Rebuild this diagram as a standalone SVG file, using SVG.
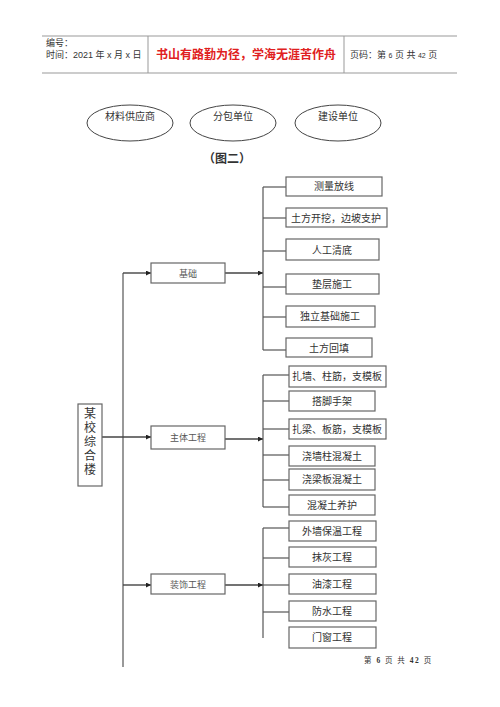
<svg xmlns="http://www.w3.org/2000/svg" width="500" height="707" viewBox="0 0 500 707">
<defs>
<marker id="arr" viewBox="0 0 10 10" refX="10" refY="5" markerWidth="5" markerHeight="5" orient="auto" markerUnits="userSpaceOnUse">
<path d="M0,0 L10,5 L0,10 z" fill="#222"/>
</marker>
</defs>
<style>
.hdr{stroke:#999;stroke-width:1;fill:none}
.sans{font-family:"Liberation Sans","Noto Sans CJK SC",sans-serif;fill:#333}
.ser{font-family:"Liberation Serif","Noto Sans CJK SC",serif;fill:#333}
.box{fill:#fff;stroke:#666;stroke-width:1.2}
.ell{fill:#fff;stroke:#444;stroke-width:1}
.ln{stroke:#555;stroke-width:1.2;fill:none}
.arr{stroke:#444;stroke-width:1.4;fill:none;marker-end:url(#arr)}
.sub{font-size:10px;text-anchor:middle;fill:#333}
.mid{font-size:9px;text-anchor:middle;fill:#555}
</style>
<rect width="500" height="707" fill="#fff"/>
<g id="header">
<line class="hdr" x1="42" y1="36" x2="457" y2="36"/>
<line class="hdr" x1="42" y1="73" x2="457" y2="73"/>
<line class="hdr" x1="148" y1="36" x2="148" y2="73"/>
<line class="hdr" x1="344" y1="36" x2="344" y2="73"/>
<text class="sans" x="46" y="46" font-size="9">编号：</text>
<text class="sans" x="46" y="58" font-size="9">时间：2021 年 x 月 x 日</text>
<text x="246" y="59" font-size="12" font-weight="bold" text-anchor="middle" fill="#e02020" font-family="'Liberation Serif','Noto Sans CJK SC',serif">书山有路勤为径，学海无涯苦作舟</text>
<text class="sans" x="350" y="58" font-size="9">页码：第 <tspan font-size="7">6</tspan> 页 共 <tspan font-size="7">42</tspan> 页</text>
</g>
<g id="ell1"><ellipse class="ell" cx="130" cy="123" rx="43" ry="18"/><text class="ser" x="130" y="120" font-size="10" text-anchor="middle">材料供应商</text></g>
<g id="ell2"><ellipse class="ell" cx="233" cy="123" rx="43" ry="18"/><text class="ser" x="233" y="120" font-size="10" text-anchor="middle">分包单位</text></g>
<g id="ell3"><ellipse class="ell" cx="338" cy="123" rx="43" ry="18"/><text class="ser" x="338" y="120" font-size="10" text-anchor="middle">建设单位</text></g>
<text class="ser" x="227" y="163" font-size="12" font-weight="bold" text-anchor="middle" fill="#222">（图二）</text>

<g id="connectors">
<line class="ln" x1="123" y1="273" x2="123" y2="667"/>
<line class="arr" x1="123" y1="273" x2="151" y2="273"/>
<line class="arr" x1="102" y1="437" x2="151" y2="437"/>
<line class="arr" x1="123" y1="585" x2="151" y2="585"/>
<line class="arr" x1="225" y1="273" x2="263" y2="273"/>
<line class="arr" x1="225" y1="439" x2="263" y2="439"/>
<line class="arr" x1="225" y1="585" x2="263" y2="585"/>
<line class="ln" x1="263" y1="187" x2="263" y2="350"/>
<line class="ln" x1="263" y1="187" x2="286" y2="187"/>
<line class="ln" x1="263" y1="218" x2="286" y2="218"/>
<line class="ln" x1="263" y1="251" x2="286" y2="251"/>
<line class="ln" x1="263" y1="287" x2="286" y2="287"/>
<line class="ln" x1="263" y1="317" x2="286" y2="317"/>
<line class="ln" x1="263" y1="350" x2="286" y2="350"/>
<line class="ln" x1="263" y1="375" x2="263" y2="507"/>
<line class="ln" x1="263" y1="375" x2="289" y2="375"/>
<line class="ln" x1="263" y1="401" x2="289" y2="401"/>
<line class="ln" x1="263" y1="429" x2="289" y2="429"/>
<line class="ln" x1="263" y1="455" x2="289" y2="455"/>
<line class="ln" x1="263" y1="480" x2="289" y2="480"/>
<line class="ln" x1="263" y1="507" x2="289" y2="507"/>
<line class="ln" x1="263" y1="528" x2="263" y2="638"/>
<line class="ln" x1="263" y1="528" x2="289" y2="528"/>
<line class="ln" x1="263" y1="558" x2="289" y2="558"/>
<line class="ln" x1="263" y1="585" x2="289" y2="585"/>
<line class="ln" x1="263" y1="612" x2="289" y2="612"/>
</g>

<g id="root"><rect class="box" x="78" y="404" width="24" height="82"/>
<text class="ser" font-size="12" text-anchor="middle" fill="#222"><tspan x="90" y="418">某</tspan><tspan x="90" y="432">校</tspan><tspan x="90" y="446">综</tspan><tspan x="90" y="460">合</tspan><tspan x="90" y="474">楼</tspan></text></g>

<g id="jichu"><rect class="box" x="151" y="263" width="74" height="20"/><text class="ser mid" x="188" y="276.5">基础</text></g>
<g id="zhuti"><rect class="box" x="151" y="426" width="74" height="23"/><text class="ser mid" x="188" y="440.5">主体工程</text></g>
<g id="zhuangshi"><rect class="box" x="151" y="574" width="74" height="20"/><text class="ser mid" x="188" y="587.5">装饰工程</text></g>

<g id="j1"><rect class="box" x="286" y="177" width="96" height="19"/><text class="ser sub" x="334" y="190">测量放线</text></g>
<g id="j2"><rect class="box" x="286" y="208" width="101" height="19"/><text class="ser sub" x="336" y="221.5">土方开挖，边坡支护</text></g>
<g id="j3"><rect class="box" x="286" y="239" width="93" height="21"/><text class="ser sub" x="332" y="253.5">人工清底</text></g>
<g id="j4"><rect class="box" x="286" y="274" width="93" height="20"/><text class="ser sub" x="332" y="288">垫层施工</text></g>
<g id="j5"><rect class="box" x="286" y="306" width="89" height="21"/><text class="ser sub" x="330" y="320">独立基础施工</text></g>
<g id="j6"><rect class="box" x="286" y="338" width="86" height="19"/><text class="ser sub" x="329" y="351.5">土方回填</text></g>

<g id="z1"><rect class="box" x="289" y="366" width="97" height="21"/><text class="ser sub" x="337" y="380">扎墙、柱筋，支模板</text></g>
<g id="z2"><rect class="box" x="289" y="391" width="86" height="20"/><text class="ser sub" x="332" y="404.5">搭脚手架</text></g>
<g id="z3"><rect class="box" x="289" y="419" width="97" height="20"/><text class="ser sub" x="337" y="433">扎梁、板筋，支模板</text></g>
<g id="z4"><rect class="box" x="289" y="446" width="86" height="20"/><text class="ser sub" x="332" y="459.5">浇墙柱混凝土</text></g>
<g id="z5"><rect class="box" x="289" y="469" width="86" height="21"/><text class="ser sub" x="332" y="483">浇梁板混凝土</text></g>
<g id="z6"><rect class="box" x="289" y="495" width="86" height="20"/><text class="ser sub" x="332" y="508.5">混凝土养护</text></g>

<g id="s1"><rect class="box" x="289" y="521" width="87" height="20"/><text class="ser sub" x="332" y="534.5">外墙保温工程</text></g>
<g id="s2"><rect class="box" x="289" y="547" width="87" height="20"/><text class="ser sub" x="332" y="560.5">抹灰工程</text></g>
<g id="s3"><rect class="box" x="289" y="574" width="87" height="20"/><text class="ser sub" x="332" y="587.5">油漆工程</text></g>
<g id="s4"><rect class="box" x="289" y="601" width="87" height="20"/><text class="ser sub" x="332" y="614.5">防水工程</text></g>
<g id="s5"><rect class="box" x="289" y="627" width="87" height="21"/><text class="ser sub" x="332" y="641">门窗工程</text></g>

<text class="ser" x="364" y="663" font-size="7.5" fill="#555" letter-spacing="1.5">第 <tspan font-weight="bold">6</tspan> 页 共 <tspan font-weight="bold">42</tspan> 页</text>
</svg>
